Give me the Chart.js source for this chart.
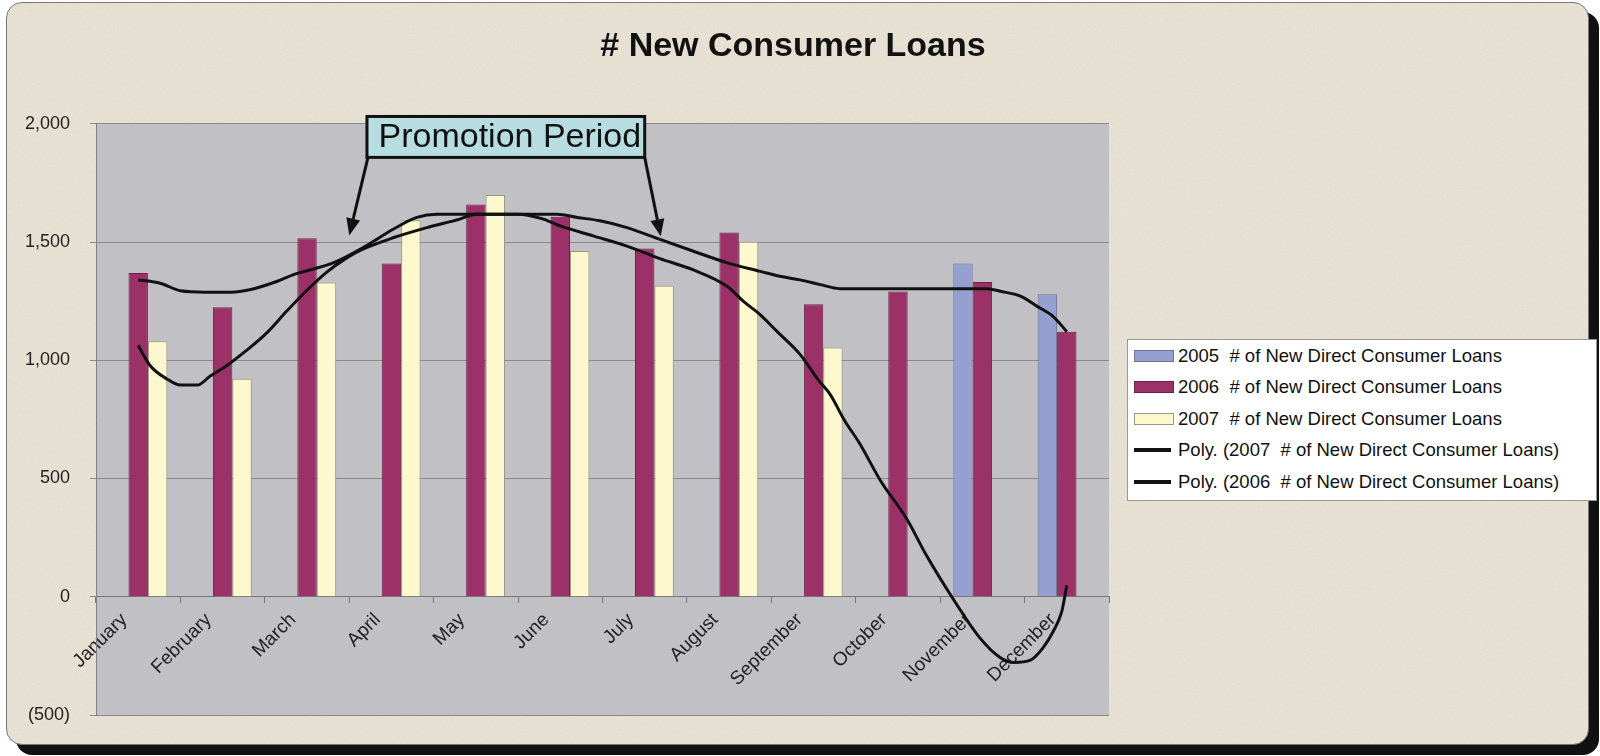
<!DOCTYPE html>
<html>
<head>
<meta charset="utf-8">
<title># New Consumer Loans</title>
<script src="https://cdn.jsdelivr.net/npm/chart.js@4.4.1/dist/chart.umd.min.js"></script>
<style>
  html, body { margin: 0; padding: 0; background: #fff; }
  #wrap { position: relative; width: 1600px; height: 756px; overflow: hidden; }
  #card {
    position: absolute; left: 6px; top: 2px; width: 1581px; height: 741px;
    background-color: #e9e2d4;
    background-image: url("data:image/svg+xml;utf8,<svg xmlns='http://www.w3.org/2000/svg' width='300' height='300'><filter id='n'><feTurbulence type='fractalNoise' baseFrequency='0.8' numOctaves='2' stitchTiles='stitch'/><feColorMatrix type='saturate' values='0'/></filter><rect width='300' height='300' filter='url(%23n)' opacity='0.12'/></svg>");
    border: 1px solid #777; border-radius: 16px;
    box-shadow: 10px 10px 0 #111;
  }
  #chart { position: absolute; left: 0; top: 0; }
  #legend {
    position: absolute; left: 1127px; top: 339px; width: 470px; height: 162px;
    background: #fff; border: 1px solid #999; box-sizing: border-box;
    font-family: 'Liberation Sans', Arial, sans-serif; font-size: 18.5px; color: #111;
  }
  .item { height: 31.5px; display: flex; align-items: center; white-space: pre; }
  .swatch { width: 40px; height: 12px; margin-left: 6px; margin-right: 4px; box-sizing: border-box; border: 1px solid #777; }
  .line { width: 37px; height: 4px; margin-left: 6px; margin-right: 7px; background: #111; }
</style>
</head>
<body>
<div id="wrap">
  <div id="card"></div>
  <canvas id="chart" width="1600" height="756"></canvas>
  <div id="legend"></div>
</div>
<script>
// 월별 카테고리
const months = ['January', 'February', 'March', 'April', 'May', 'June',
                'July', 'August', 'September', 'October', 'November', 'December'];

// 막대 데이터 (연도별 신규 대출 건수)
const loans2005 = [null, null, null, null, null, null, null, null, null, null, 1409, 1279];
const loans2006 = [1369, 1224, 1516, 1409, 1659, 1607, 1473, 1540, 1237, 1291, 1331, 1121];
const loans2007 = [1080, 922, 1329, 1592, 1699, 1462, 1315, 1501, 1054, null, null, null];

// 추세선 (그림에서 읽은 값, x = 월 위치 0..11)
const poly2006Month = [0, 0.26, 0.5, 0.8, 1.1, 1.32, 1.64, 1.84, 2.04, 2.31, 2.68, 3.02, 3.3, 3.54,
                       4.96, 5.2, 5.47, 5.79, 6.18, 6.57, 6.98, 7.37, 7.6, 7.84, 8.08, 8.31,
                       10.06, 10.21, 10.45, 10.65, 10.84, 11];
const poly2006Value = [1340, 1326, 1294, 1288, 1288, 1298, 1333, 1362, 1383, 1412, 1480, 1554, 1604, 1618,
                       1618, 1604, 1590, 1561, 1511, 1462, 1412, 1376, 1355, 1340, 1320, 1303,
                       1303, 1292, 1271, 1228, 1185, 1121];
const poly2007Month = [0, 0.14, 0.34, 0.5, 0.7, 0.85, 1.05, 1.29, 1.52, 1.76, 1.99, 2.23, 2.47, 2.63,
                       3.02, 3.42, 3.81, 4.0, 4.5, 4.8, 5.0, 5.39, 5.79, 6.18, 6.57, 6.98, 7.17,
                       7.37, 7.57, 7.84, 8.06, 8.2, 8.36, 8.55, 8.79, 9.11, 9.34, 9.7, 9.97,
                       10.21, 10.37, 10.57, 10.72, 10.84, 10.94, 11];
const poly2007Value = [1063, 978, 921, 895, 895, 932, 978, 1044, 1115, 1208, 1293, 1372, 1433, 1465,
                       1518, 1561, 1597, 1618, 1618, 1597, 1568, 1526, 1483, 1430, 1383, 1312, 1249,
                       1192, 1121, 1025, 915, 854, 750, 646, 493, 326, 173, -35, -174,
                       -257, -278, -268, -215, -146, -63, 48];

// 범례 라벨
const seriesLabels = [
  '2005  # of New Direct Consumer Loans',
  '2006  # of New Direct Consumer Loans',
  '2007  # of New Direct Consumer Loans',
  'Poly. (2007  # of New Direct Consumer Loans)',
  'Poly. (2006  # of New Direct Consumer Loans)'
];

// 주석 (프로모션 기간) - 월 위치 / 값 단위
const promo = {
  text: 'Promotion Period',
  box: { from: 2.71, to: 6.0, top: 2031, bottom: 1858 },
  leftTip: { x: 2.5, y: 1528 },
  rightTip: { x: 6.19, y: 1524 }
};

const FONT = "'Liberation Sans', Arial, sans-serif";
Chart.defaults.font.family = FONT;
Chart.defaults.color = '#222';

const byMonth = arr => arr.map((v, i) => ({ x: i, y: v }));
const toPoints = (xs, ys) => xs.map((x, i) => ({ x: x, y: ys[i] }));

const plotBackground = {
  id: 'plotBackground',
  beforeDraw(chart) {
    const { ctx, chartArea: a } = chart;
    ctx.save();
    ctx.fillStyle = '#c1c1c5';
    ctx.fillRect(a.left, a.top, a.right - a.left, a.bottom - a.top);
    ctx.restore();
  }
};

function arrow(ctx, x1, y1, x2, y2) {
  const ang = Math.atan2(y2 - y1, x2 - x1);
  const len = 17, half = 7;
  const bx = x2 - len * Math.cos(ang), by = y2 - len * Math.sin(ang);
  ctx.beginPath();
  ctx.moveTo(x1, y1);
  ctx.lineTo(bx, by);
  ctx.stroke();
  ctx.beginPath();
  ctx.moveTo(x2, y2);
  ctx.lineTo(bx + half * Math.sin(ang), by - half * Math.cos(ang));
  ctx.lineTo(bx - half * Math.sin(ang), by + half * Math.cos(ang));
  ctx.closePath();
  ctx.fill();
}

const promoNote = {
  id: 'promoNote',
  afterDatasetsDraw(chart) {
    const { ctx } = chart;
    const xs = chart.scales.x, ys = chart.scales.y;
    const l = xs.getPixelForValue(promo.box.from), r = xs.getPixelForValue(promo.box.to);
    const t = ys.getPixelForValue(promo.box.top), b = ys.getPixelForValue(promo.box.bottom);
    ctx.save();
    ctx.strokeStyle = '#111';
    ctx.fillStyle = '#111';
    ctx.lineWidth = 3;
    arrow(ctx, l + 1, b, xs.getPixelForValue(promo.leftTip.x), ys.getPixelForValue(promo.leftTip.y));
    arrow(ctx, r, b, xs.getPixelForValue(promo.rightTip.x), ys.getPixelForValue(promo.rightTip.y));
    ctx.fillStyle = '#b7dde0';
    ctx.fillRect(l, t, r - l, b - t);
    ctx.strokeRect(l, t, r - l, b - t);
    ctx.fillStyle = '#111';
    ctx.font = '34px ' + FONT;
    ctx.textAlign = 'center';
    ctx.textBaseline = 'middle';
    ctx.fillText(promo.text, (l + r) / 2 + 4, (t + b) / 2 + 1);
    ctx.restore();
  }
};

const datasets = [
  { type: 'bar', label: seriesLabels[0], data: byMonth(loans2005), backgroundColor: '#95a0d0', borderColor: '#6c7399', borderWidth: 1, order: 2 },
  { type: 'bar', label: seriesLabels[1], data: byMonth(loans2006), backgroundColor: '#9c3068', borderColor: '#6e2249', borderWidth: 1, order: 2 },
  { type: 'bar', label: seriesLabels[2], data: byMonth(loans2007), backgroundColor: '#fdf8cd', borderColor: '#9b9a80', borderWidth: 1, order: 2 },
  { type: 'line', label: seriesLabels[3], data: toPoints(poly2007Month, poly2007Value),
    borderColor: '#111', borderWidth: 3, pointRadius: 0, cubicInterpolationMode: 'monotone', order: 1 },
  { type: 'line', label: seriesLabels[4], data: toPoints(poly2006Month, poly2006Value),
    borderColor: '#111', borderWidth: 3, pointRadius: 0, cubicInterpolationMode: 'monotone', order: 1 }
];

new Chart(document.getElementById('chart'), {
  type: 'bar',
  data: { datasets: datasets },
  options: {
    responsive: false,
    animation: false,
    devicePixelRatio: 1,
    datasets: { bar: { categoryPercentage: 0.69, barPercentage: 1.0 } },
    layout: { padding: { left: 0, right: 14, top: 0, bottom: 41 } },
    plugins: {
      legend: { display: false },
      tooltip: { enabled: false },
      title: {
        display: true,
        text: '# New Consumer Loans',
        color: '#111',
        font: { size: 34, weight: 'bold' },
        padding: { top: 26, bottom: 57 }
      }
    },
    scales: {
      // 월 축: 0..11 위치, 0 값 위에 놓임
      x: {
        type: 'linear',
        position: { y: 0 },
        min: -0.5, max: 11.5,
        offset: false,
        afterBuildTicks: s => { s.ticks = months.map((m, i) => ({ value: i })); },
        grid: { display: true, drawOnChartArea: false, drawTicks: true, tickLength: 6, color: '#777', offset: true },
        border: { display: true, color: '#777' },
        ticks: { autoSkip: false, minRotation: 45, maxRotation: 45, labelOffset: -14, padding: 6,
                 font: { size: 19 }, color: '#222', callback: v => months[v] },
        afterFit: s => { s.paddingLeft = 0; s.paddingRight = 0; }
      },
      y: {
        position: 'left',
        min: -500, max: 2000,
        grid: { color: '#8a8a8a', tickLength: 6 },
        border: { display: true, color: '#808080' },
        ticks: {
          stepSize: 500, padding: 20, font: { size: 18 }, color: '#222',
          callback: v => v < 0 ? '(' + Math.abs(v).toLocaleString('en-US') + ')' : v.toLocaleString('en-US')
        },
        afterFit: s => { s.width = 96; }
      },
      // 범례 자리를 비워 두는 빈 축
      yr: {
        type: 'linear', position: 'right', display: true,
        grid: { display: false, drawTicks: false },
        border: { display: false },
        ticks: { display: false },
        afterFit: s => { s.width = 477; }
      }
    }
  },
  plugins: [plotBackground, promoNote]
});

// 범례 (HTML)
const legendEl = document.getElementById('legend');
datasets.forEach(ds => {
  const row = document.createElement('div');
  row.className = 'item';
  const sw = document.createElement('span');
  if (ds.type === 'bar') {
    sw.className = 'swatch';
    sw.style.background = ds.backgroundColor;
    sw.style.borderColor = ds.borderColor;
  } else {
    sw.className = 'line';
  }
  const tx = document.createElement('span');
  tx.textContent = ds.label;
  row.appendChild(sw);
  row.appendChild(tx);
  legendEl.appendChild(row);
});
</script>
</body>
</html>
